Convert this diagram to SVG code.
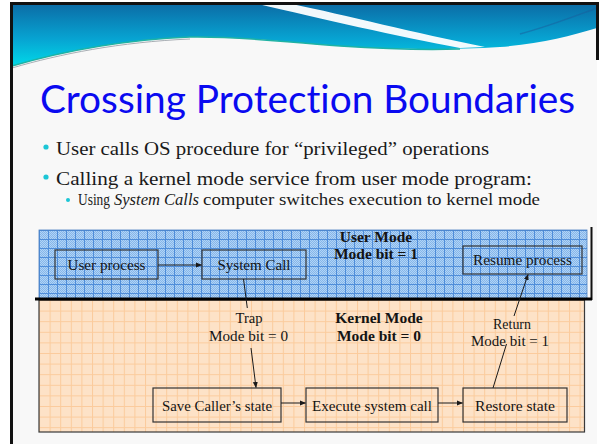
<svg xmlns="http://www.w3.org/2000/svg" width="600" height="444" viewBox="0 0 600 444">
  <defs>
    <style>
      .title { font-family: Lato, "Open Sans", sans-serif; font-size: 38px; fill: #0a0af0; font-variant-ligatures: none; }
      .body { font-family: "Liberation Serif", "DejaVu Serif", serif; fill: #1a1a1a; }
      .lbl { font-family: "Liberation Serif", "DejaVu Serif", serif; font-size: 15.5px; fill: #141414; text-anchor: middle; }
      .bold { font-weight: bold; }
      .box { fill: none; stroke: #333; stroke-width: 1.2; }
      .wire { fill: none; stroke: #1a1a1a; stroke-width: 1; }
      .dot { fill: #1cc6d6; }
    </style>
    <linearGradient id="hdr" x1="0" y1="4" x2="0" y2="68" gradientUnits="userSpaceOnUse">
      <stop offset="0" stop-color="#0b6ca6"/>
      <stop offset="0.55" stop-color="#07a4d2"/>
      <stop offset="1" stop-color="#00dcea"/>
    </linearGradient>
    <pattern id="check" width="2" height="2" patternUnits="userSpaceOnUse">
      <rect width="2" height="2" fill="#84b6ea"/>
      <rect width="1" height="1" fill="#b2d3f5"/>
      <rect x="1" y="1" width="1" height="1" fill="#b2d3f5"/>
    </pattern>
    <pattern id="bluegrid" x="39" y="230" width="9" height="9" patternUnits="userSpaceOnUse">
      <rect width="9" height="9" fill="url(#check)"/>
      <path d="M0,0.5H9M0.5,0V9" stroke="#4f8dd9" stroke-width="1"/>
    </pattern>
    <pattern id="orangegrid" x="39" y="300" width="10.6" height="10.6" patternUnits="userSpaceOnUse">
      <rect width="10.6" height="10.6" fill="#fde2c7"/>
      <path d="M0,0.5H10.6M0.5,0V10.6" stroke="#fbcb9c" stroke-width="1"/>
    </pattern>
    <marker id="arr" markerWidth="6" markerHeight="6" refX="5.5" refY="3" orient="auto" markerUnits="userSpaceOnUse">
      <path d="M0,0.5 L6,3 L0,5.5 Z" fill="#1a1a1a"/>
    </marker>
  </defs>

  <!-- slide page -->
  <rect x="0" y="0" width="600" height="444" fill="#ffffff"/>
  <rect x="12" y="4" width="585" height="440" fill="#f8f8f8"/>

  <!-- header wave -->
  <g id="header">
    <path d="M12,4 H597 V28 C570,36 540,44 500,47 C450,50 400,50 340,46 C280,42 240,36 190,37 C120,40 60,52 12,66 Z" fill="url(#hdr)"/>
    <path d="M258,4 H292 C345,15 415,33 485,47 L460,48 C400,37 318,18 258,4 Z" fill="#ffffff" opacity="0.95"/>
    <path d="M520,34 C550,26 575,16 597,8" stroke="#1a5e9c" stroke-width="1.5" fill="none" opacity="0.5"/>
    <path d="M12,66 C60,52 120,40 190,37 C240,36 280,42 340,46 C400,50 430,50 460,49" stroke="#1fb2a4" stroke-width="1.5" fill="none"/>
    <path d="M12,68 C60,54 120,42 190,39" stroke="#a8aeb4" stroke-width="1" fill="none"/>
  </g>

  <!-- slide frame -->
  <path d="M11.5,444 V3.5 H597.5 V60" fill="none" stroke="#111" stroke-width="3"/>

  <!-- title and bullets -->
  <text class="title" x="40" y="113" textLength="535" lengthAdjust="spacingAndGlyphs">Crossing Protection Boundaries</text>

  <circle class="dot" cx="46" cy="147" r="2.6"/>
  <text class="body" x="56" y="155" font-size="19" textLength="433" lengthAdjust="spacingAndGlyphs">User calls OS procedure for “privileged” operations</text>
  <circle class="dot" cx="46" cy="177" r="2.6"/>
  <text class="body" x="56" y="185" font-size="19" textLength="476" lengthAdjust="spacingAndGlyphs">Calling a kernel mode service from user mode program:</text>
  <circle class="dot" cx="68" cy="200" r="2"/>
  <text class="body" x="78" y="205" font-size="16" textLength="32" lengthAdjust="spacingAndGlyphs">Using</text>
  <text class="body" x="114" y="205" font-size="16" font-style="italic" textLength="85" lengthAdjust="spacingAndGlyphs">System Calls</text>
  <text class="body" x="203" y="205" font-size="16" textLength="337" lengthAdjust="spacingAndGlyphs">computer switches execution to kernel mode</text>

  <!-- mode regions -->
  <g id="user-mode">
    <rect x="39" y="230" width="548" height="69" fill="url(#bluegrid)" stroke="#4a7fc0" stroke-width="0.8"/>
    <text class="lbl bold" x="376" y="242">User Mode</text>
    <text class="lbl bold" x="376" y="259">Mode bit = 1</text>
  </g>
  <g id="kernel-mode">
    <rect x="39" y="300" width="545.5" height="132" fill="url(#orangegrid)" stroke="#3a3a3a" stroke-width="1.2"/>
    <text class="lbl bold" x="379" y="323">Kernel Mode</text>
    <text class="lbl bold" x="379" y="341">Mode bit = 0</text>
  </g>
  <path d="M591.5,227 V300" stroke="#111" stroke-width="2"/>
  <path d="M35,299 H592" stroke="#000" stroke-width="3"/>

  <!-- process nodes -->
  <g id="user-process">
    <rect class="box" x="55" y="250" width="103" height="29"/>
    <text class="lbl" x="106.5" y="270" textLength="78" lengthAdjust="spacingAndGlyphs">User process</text>
  </g>
  <g id="system-call">
    <rect class="box" x="202" y="250" width="104" height="29"/>
    <text class="lbl" x="254" y="270" textLength="73" lengthAdjust="spacingAndGlyphs">System Call</text>
  </g>
  <g id="resume-process">
    <rect class="box" x="463" y="246" width="119" height="28"/>
    <text class="lbl" x="522.5" y="265" textLength="99" lengthAdjust="spacingAndGlyphs">Resume process</text>
  </g>
  <g id="save-state">
    <rect class="box" x="153" y="388" width="128" height="34"/>
    <text class="lbl" x="217" y="411" textLength="110" lengthAdjust="spacingAndGlyphs">Save Caller’s state</text>
  </g>
  <g id="execute-call">
    <rect class="box" x="306" y="388" width="132" height="34"/>
    <text class="lbl" x="372" y="411" textLength="120" lengthAdjust="spacingAndGlyphs">Execute system call</text>
  </g>
  <g id="restore-state">
    <rect class="box" x="463" y="388" width="104" height="34"/>
    <text class="lbl" x="515" y="411" textLength="80" lengthAdjust="spacingAndGlyphs">Restore state</text>
  </g>

  <!-- connectors -->
  <g id="connectors">
    <path class="wire" d="M158,265 H201.5" marker-end="url(#arr)"/>
    <path class="wire" d="M281,403 H305.5" marker-end="url(#arr)"/>
    <path class="wire" d="M438,403 H462.5" marker-end="url(#arr)"/>
    <path class="wire" d="M243.5,279 L247.3,308"/>
    <path class="wire" d="M251,348 L256,387.5" marker-end="url(#arr)"/>
    <path class="wire" d="M493,388 L506.5,344"/>
    <path class="wire" d="M514,316 L528,274.5" marker-end="url(#arr)"/>
    <text class="lbl" x="249" y="323" textLength="27" lengthAdjust="spacingAndGlyphs">Trap</text>
    <text class="lbl" x="248.5" y="341" textLength="79" lengthAdjust="spacingAndGlyphs">Mode bit = 0</text>
    <text class="lbl" x="512" y="329" textLength="38" lengthAdjust="spacingAndGlyphs">Return</text>
    <text class="lbl" x="510" y="346" textLength="78" lengthAdjust="spacingAndGlyphs">Mode bit = 1</text>
  </g>
</svg>
